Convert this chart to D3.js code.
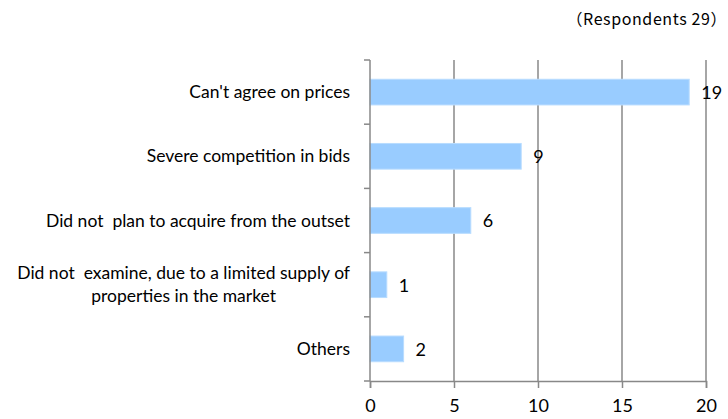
<!DOCTYPE html>
<html>
<head>
<meta charset="utf-8">
<script src="https://cdn.jsdelivr.net/npm/d3@7"></script>
<style>
  html, body { margin: 0; padding: 0; background: #fff; }
  svg { display: block; }
  text { white-space: pre; }
</style>
</head>
<body>
<svg id="chart" width="728" height="419"></svg>
<script>
// Reasons given by respondents
const categories = [
  "Can't agree on prices",
  "Severe competition in bids",
  "Did not  plan to acquire from the outset",
  "Did not  examine, due to a limited supply of\nproperties in the market",
  "Others"
];
const counts = [19, 9, 6, 1, 2];
const xTicks = [0, 5, 10, 15, 20];
const noteText = "（Respondents 29）";

const W = 728, H = 419;
const margin = { left: 370, right: 22, top: 60, bottom: 38 };
const plotW = W - margin.left - margin.right;
const plotH = H - margin.top - margin.bottom;

const svg = d3.select("#chart");
const font = "Lato, 'Open Sans', sans-serif";
const axisColor = "#888888";

const x = d3.scaleLinear().domain([0, 20]).range([0, plotW]);
const y = d3.scaleBand().domain(categories).range([0, plotH]).paddingInner(0.6).paddingOuter(0.3);
const yEdge = d3.scaleLinear().domain([0, categories.length]).range([0, plotH]);

const g = svg.append("g").attr("transform", `translate(${margin.left},${margin.top})`);

// vertical gridlines
g.selectAll("line.grid").data(xTicks.slice(1)).enter().append("line")
  .attr("class", "grid")
  .attr("x1", d => x(d)).attr("x2", d => x(d))
  .attr("y1", 0).attr("y2", plotH)
  .attr("stroke", axisColor).attr("stroke-width", 1.5);

// bars
g.selectAll("rect.bar").data(counts).enter().append("rect")
  .attr("class", "bar")
  .attr("x", 0)
  .attr("y", (d, i) => y(categories[i]))
  .attr("width", d => x(d))
  .attr("height", y.bandwidth())
  .attr("fill", "#99ccff")
  .attr("stroke", "#b8dcff").attr("stroke-width", 1);

// value labels
g.selectAll("text.val").data(counts).enter().append("text")
  .attr("class", "val")
  .attr("x", d => x(d) + 12)
  .attr("y", (d, i) => y(categories[i]) + y.bandwidth() / 2)
  .attr("dy", "0.38em")
  .attr("font-family", font).attr("font-size", 18).attr("fill", "#000")
  .text(d => d);

// left axis line with band boundary ticks
g.append("line")
  .attr("x1", 0).attr("x2", 0).attr("y1", 0).attr("y2", plotH)
  .attr("stroke", axisColor).attr("stroke-width", 1.5);
g.selectAll("line.ytick").data(d3.range(categories.length + 1)).enter().append("line")
  .attr("class", "ytick")
  .attr("x1", -6).attr("x2", 0)
  .attr("y1", d => yEdge(d)).attr("y2", d => yEdge(d))
  .attr("stroke", axisColor).attr("stroke-width", 1.5);

// bottom axis
const xAxis = d3.axisBottom(x).tickValues(xTicks).tickSize(7).tickPadding(11);
const xg = g.append("g").attr("transform", `translate(0,${plotH})`).call(xAxis);
xg.select(".domain").attr("stroke", axisColor).attr("stroke-width", 1.5);
xg.selectAll(".tick line").attr("stroke", axisColor).attr("stroke-width", 1.5);
xg.selectAll(".tick text").attr("font-family", font).attr("font-size", 18).attr("fill", "#000");

// category labels
const labelRight = -20;
categories.forEach((c, i) => {
  const lines = c.split("\n");
  const t = g.append("text")
    .attr("font-family", font).attr("font-size", 17.5).attr("fill", "#000");
  const cy = y(c) + y.bandwidth() / 2;
  const lh = 23;
  const spans = lines.map((ln, k) => t.append("tspan")
    .attr("y", cy + (k - (lines.length - 1) / 2) * lh)
    .attr("dy", "0.35em")
    .text(ln));
  if (lines.length === 1) {
    t.attr("text-anchor", "end");
    spans[0].attr("x", labelRight);
  } else {
    const maxW = d3.max(spans, s => s.node().getComputedTextLength());
    t.attr("text-anchor", "middle");
    spans.forEach(s => s.attr("x", labelRight - maxW / 2));
  }
});

// respondent count note
svg.append("text")
  .attr("x", W - 1).attr("y", 25)
  .attr("text-anchor", "end")
  .attr("font-family", "'Noto Sans CJK JP', sans-serif").attr("font-size", 16)
  .attr("letter-spacing", 0.6).attr("fill", "#000")
  .text(noteText);
</script>
</body>
</html>
